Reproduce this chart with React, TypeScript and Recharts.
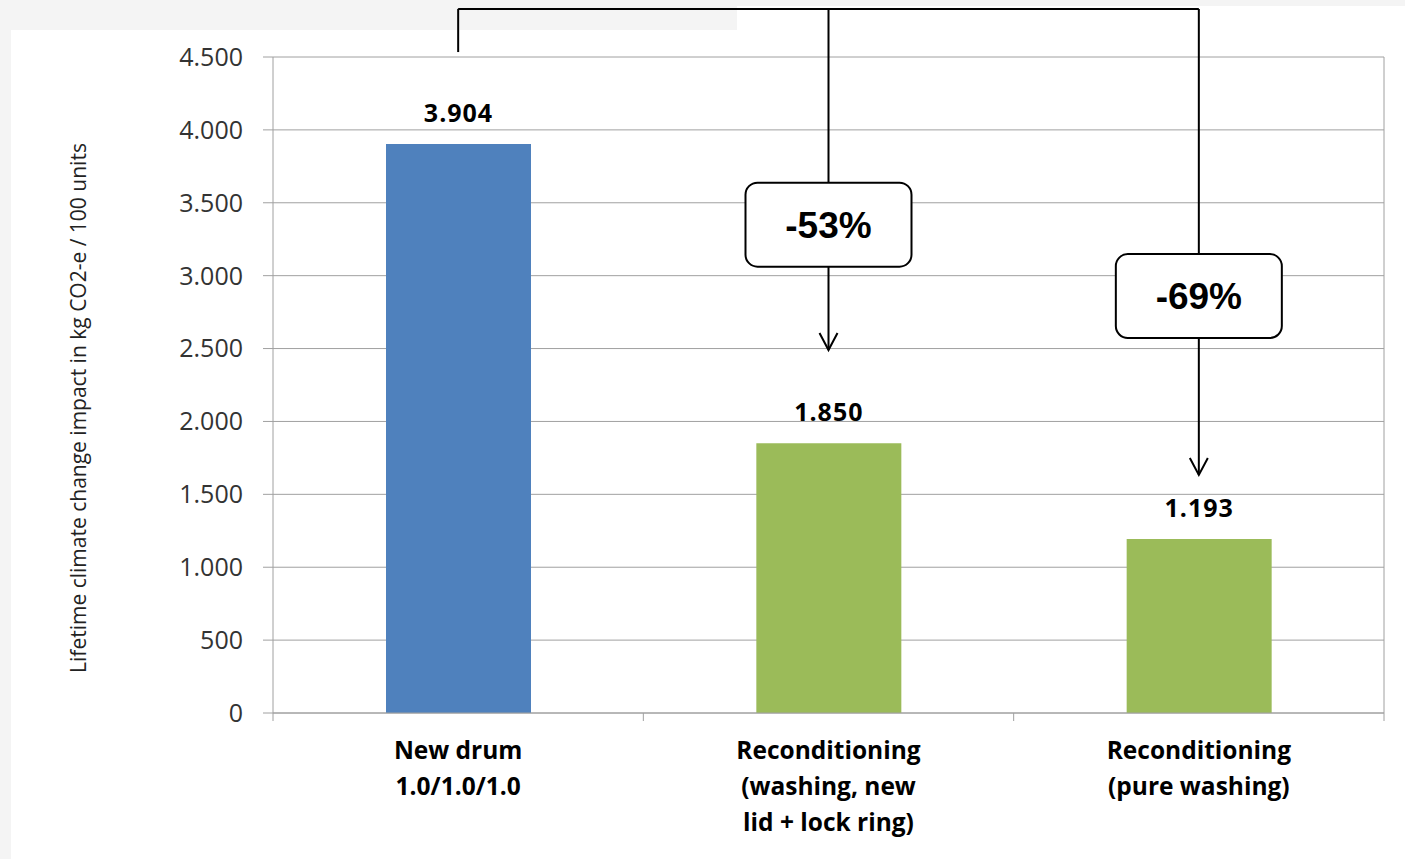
import { BarChart, Bar, XAxis, YAxis, CartesianGrid, Cell, LabelList, ReferenceLine, ReferenceDot, Label } from 'recharts';

const categories = ['New drum 1.0/1.0/1.0', 'Reconditioning (washing, new lid + lock ring)', 'Reconditioning (pure washing)'];
const categoryLines = [
  ['New drum', '1.0/1.0/1.0'],
  ['Reconditioning', '(washing, new', 'lid + lock ring)'],
  ['Reconditioning', '(pure washing)'],
];
const impacts = [3904, 1850, 1193];
const barColors = ['#4f81bd', '#9bbb59', '#9bbb59'];
const yTicks = [0, 500, 1000, 1500, 2000, 2500, 3000, 3500, 4000, 4500];
const reductionLabels = ['-53%', '-69%'];

// annotation anchors, in axis units
const BRACKET_TOP = 4830;
const BRACKET_START = 4534;
const BOX_Y = [3350, 2860];
const ARROW_TIP = [2490, 1633];

const W = 1405;
const H = 859;
const MARGIN = { top: 57, right: 11, bottom: 0, left: 60 };
const Y_WIDTH = 213;
const R_WIDTH = 10;
const BAND = (W - MARGIN.left - Y_WIDTH - MARGIN.right - R_WIDTH) / categories.length;
const GRID = '#a0a0a0';
const SANS = '"Open Sans", Arial, sans-serif';

const data = categories.map((name, i) => ({ name, impact: impacts[i] }));

const dots = (v: number) => String(v).replace(/\B(?=(\d{3})+(?!\d))/g, '.');

const CategoryTick = ({ x, y, payload }: any) => {
  const idx = categories.indexOf(payload.value);
  const half = BAND / 2;
  return (
    <g>
      <line x1={x - half} y1={y} x2={x - half} y2={y + 8} stroke={GRID} />
      {idx === categories.length - 1 && <line x1={x + half} y1={y} x2={x + half} y2={y + 8} stroke={GRID} />}
      <text x={x} y={y + 46} textAnchor="middle" fontFamily={SANS} fontWeight={700} fontSize={24.5} fill="#000">
        {categoryLines[idx].map((t, i) => (
          <tspan key={i} x={x} dy={i === 0 ? 0 : 36}>{t}</tspan>
        ))}
      </text>
    </g>
  );
};

const Connector = ({ arrow }: { arrow?: boolean }) => (props: any) => {
  const { x1, y1, x2, y2 } = props;
  const tipY = Math.max(y1, y2);
  const tipX = y1 > y2 ? x1 : x2;
  return (
    <g>
      <line x1={x1} y1={y1} x2={x2} y2={y2} stroke="#000" strokeWidth={2} />
      {arrow && (
        <polyline
          points={`${tipX - 9},${tipY - 17} ${tipX},${tipY} ${tipX + 9},${tipY - 17}`}
          fill="none"
          stroke="#000"
          strokeWidth={2}
        />
      )}
    </g>
  );
};

const ReductionBox = (label: string) => (props: any) => {
  const { cx, cy } = props;
  return (
    <g>
      <rect x={cx - 83} y={cy - 42} width={166} height={84} rx={12} fill="#fff" stroke="#000" strokeWidth={2} />
      <text x={cx} y={cy} dy="0.36em" textAnchor="middle" fontFamily='"Liberation Sans", Arial, sans-serif' fontWeight={700} fontSize={37} fill="#000">
        {label}
      </text>
    </g>
  );
};

const AxisTitle = ({ viewBox }: any) => {
  const cx = viewBox.x + 18;
  const cy = viewBox.y + viewBox.height / 2 + 23;
  return (
    <text x={cx} y={cy} transform={`rotate(-90 ${cx} ${cy})`} textAnchor="middle" dominantBaseline="central" fontFamily={SANS} fontSize={21} fill="#222">
      Lifetime climate change impact in kg CO2-e / 100 units
    </text>
  );
};

export default function App() {
  return (
    <div style={{ position: 'absolute', left: 0, top: 0, width: W, height: H, background: '#f4f4f4', overflow: 'hidden' }}>
      <div style={{ position: 'absolute', left: 11, top: 30, right: 0, bottom: 0, background: '#fff' }} />
      <div style={{ position: 'absolute', left: 737, top: 6, right: 0, bottom: 0, background: '#fff' }} />
      <div style={{ position: 'absolute', left: 0, top: 0 }}>
        <BarChart width={W} height={H} data={data} margin={MARGIN}>
          <CartesianGrid yAxisId="l" vertical={false} stroke={GRID} />
          <XAxis
            dataKey="name"
            height={146}
            tickSize={0}
            tickMargin={0}
            tickLine={false}
            interval={0}
            axisLine={{ stroke: GRID }}
            tick={<CategoryTick />}
          />
          <YAxis
            yAxisId="l"
            width={Y_WIDTH}
            domain={[0, 4500]}
            ticks={yTicks}
            tickFormatter={dots}
            tickSize={10}
            tickMargin={20}
            axisLine={{ stroke: GRID }}
            tickLine={{ stroke: GRID }}
            tick={{ fill: '#333', fontSize: 25, fontFamily: SANS }}
          >
            <Label content={<AxisTitle />} />
          </YAxis>
          <YAxis
            yAxisId="r"
            orientation="right"
            width={R_WIDTH}
            domain={[0, 4500]}
            tick={false}
            tickLine={false}
            axisLine={{ stroke: GRID }}
          />
          <Bar yAxisId="l" dataKey="impact" barSize={145} isAnimationActive={false}>
            {data.map((d, i) => (
              <Cell key={d.name} fill={barColors[i]} />
            ))}
            <LabelList
              dataKey="impact"
              position="top"
              offset={22}
              formatter={(v: any) => dots(Number(v))}
              style={{ fill: '#000', fontWeight: 700, fontSize: 25, fontFamily: SANS, letterSpacing: 1 }}
            />
          </Bar>
          <ReferenceLine
            yAxisId="l"
            ifOverflow="visible"
            segment={[{ x: categories[0], y: BRACKET_START }, { x: categories[0], y: BRACKET_TOP }]}
            shape={Connector({})}
          />
          <ReferenceLine
            yAxisId="l"
            ifOverflow="visible"
            segment={[{ x: categories[0], y: BRACKET_TOP }, { x: categories[2], y: BRACKET_TOP }]}
            shape={Connector({})}
          />
          <ReferenceLine
            yAxisId="l"
            ifOverflow="visible"
            segment={[{ x: categories[1], y: BRACKET_TOP }, { x: categories[1], y: ARROW_TIP[0] }]}
            shape={Connector({ arrow: true })}
          />
          <ReferenceLine
            yAxisId="l"
            ifOverflow="visible"
            segment={[{ x: categories[2], y: BRACKET_TOP }, { x: categories[2], y: ARROW_TIP[1] }]}
            shape={Connector({ arrow: true })}
          />
          <ReferenceDot yAxisId="l" x={categories[1]} y={BOX_Y[0]} ifOverflow="visible" shape={ReductionBox(reductionLabels[0])} />
          <ReferenceDot yAxisId="l" x={categories[2]} y={BOX_Y[1]} ifOverflow="visible" shape={ReductionBox(reductionLabels[1])} />
        </BarChart>
      </div>
    </div>
  );
}
